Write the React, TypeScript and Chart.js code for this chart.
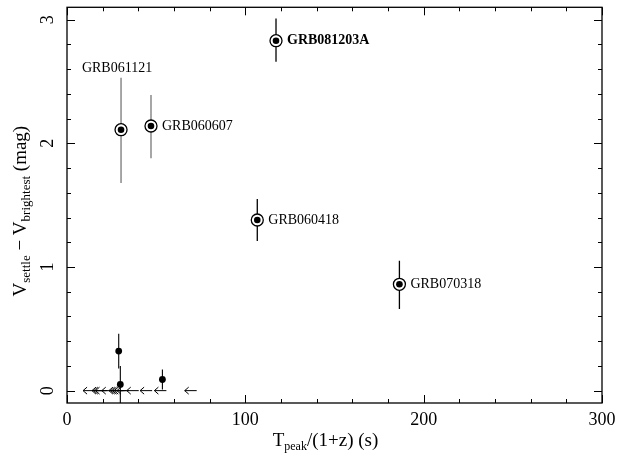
import React, { useEffect, useRef } from 'react';
import { Chart, registerables } from 'chart.js';

Chart.register(...registerables);

// Ringed GRBs with names
const grbNames = ['GRB081203A', 'GRB061121', 'GRB060607', 'GRB060418', 'GRB070318'];
const grbT = [117.2, 30.3, 47.1, 106.7, 186.4];
const grbDV = [2.83, 2.11, 2.14, 1.38, 0.86];
const grbLow = [2.66, 1.68, 1.88, 1.21, 0.66];
const grbHigh = [3.01, 2.53, 2.39, 1.55, 1.05];
const grbLabelSide = ['right', 'above', 'right', 'right', 'right'];
const grbBarGrey = [false, true, true, false, false];

// Other detected points
const otherT = [29.0, 29.9, 53.5];
const otherDV = [0.32, 0.05, 0.09];
const otherLow = [0.18, -0.15, 0.01];
const otherHigh = [0.46, 0.2, 0.17];

// Upper limits on T_peak (left arrows) at zero rise
const limitT = [9, 14, 15, 16, 19.5, 23.5, 24.5, 25.5, 26.5, 28, 33.5, 41, 49, 66];
const limitDV = [0, 0, 0, 0, 0, 0, 0, 0, 0, 0, 0, 0, 0, 0];

// Axis ticks
const xMajorTicks = [0, 100, 200, 300];
const xMinorTicks = [20, 40, 60, 80, 120, 140, 160, 180, 220, 240, 260, 280];
const yMajorTicks = [0, 1, 2, 3];
const yMinorTicks = [0.2, 0.4, 0.6, 0.8, 1.2, 1.4, 1.6, 1.8, 2.2, 2.4, 2.6, 2.8];

const SERIF = '"Liberation Serif", "DejaVu Serif", serif';

type Part = { t: string; sub?: boolean };

function richWidth(ctx: CanvasRenderingContext2D, parts: Part[], size: number, subSize: number) {
  let w = 0;
  for (const p of parts) {
    ctx.font = `${p.sub ? subSize : size}px ${SERIF}`;
    w += ctx.measureText(p.t).width;
  }
  return w;
}

function drawRich(ctx: CanvasRenderingContext2D, parts: Part[], cx: number, baseY: number, size: number, subSize: number, subDrop: number) {
  const w = richWidth(ctx, parts, size, subSize);
  let x = cx - w / 2;
  ctx.textAlign = 'left';
  ctx.textBaseline = 'alphabetic';
  for (const p of parts) {
    ctx.font = `${p.sub ? subSize : size}px ${SERIF}`;
    ctx.fillText(p.t, x, baseY + (p.sub ? subDrop : 0));
    x += ctx.measureText(p.t).width;
  }
}

const decorPlugin = {
  id: 'decor',
  beforeDatasetsDraw(chart: any) {
    const { ctx, chartArea: ca } = chart;
    const x = chart.scales.x;
    const y = chart.scales.y;
    ctx.save();
    ctx.beginPath();
    ctx.rect(ca.left, ca.top, ca.right - ca.left, ca.bottom - ca.top);
    ctx.clip();
    grbT.forEach((t, i) => {
      const px = x.getPixelForValue(t);
      ctx.strokeStyle = grbBarGrey[i] ? '#777777' : '#000000';
      ctx.lineWidth = 1.3;
      ctx.beginPath();
      ctx.moveTo(px, y.getPixelForValue(grbLow[i]));
      ctx.lineTo(px, y.getPixelForValue(grbHigh[i]));
      ctx.stroke();
    });
    otherT.forEach((t, i) => {
      const px = x.getPixelForValue(t);
      ctx.strokeStyle = '#000000';
      ctx.lineWidth = 1.1;
      ctx.beginPath();
      ctx.moveTo(px, y.getPixelForValue(otherLow[i]));
      ctx.lineTo(px, y.getPixelForValue(otherHigh[i]));
      ctx.stroke();
    });
    ctx.strokeStyle = '#000000';
    ctx.lineWidth = 1;
    limitT.forEach((t, i) => {
      const px = x.getPixelForValue(t);
      const py = y.getPixelForValue(limitDV[i]);
      ctx.beginPath();
      ctx.moveTo(px, py);
      ctx.lineTo(px + 12, py);
      ctx.moveTo(px + 4, py - 3.5);
      ctx.lineTo(px, py);
      ctx.lineTo(px + 4, py + 3.5);
      ctx.stroke();
    });
    ctx.restore();
  },
  afterDraw(chart: any) {
    const { ctx, chartArea: ca } = chart;
    const x = chart.scales.x;
    const y = chart.scales.y;
    ctx.save();
    ctx.fillStyle = '#000000';
    ctx.strokeStyle = '#000000';
    ctx.lineWidth = 1.3;
    ctx.strokeRect(ca.left, ca.top, ca.right - ca.left, ca.bottom - ca.top);
    ctx.lineWidth = 1;
    ctx.beginPath();
    const xt = (v: number, len: number) => {
      const px = Math.round(x.getPixelForValue(v)) + 0.5;
      ctx.moveTo(px, ca.bottom);
      ctx.lineTo(px, ca.bottom - len);
      ctx.moveTo(px, ca.top);
      ctx.lineTo(px, ca.top + len);
    };
    const yt = (v: number, len: number) => {
      const py = Math.round(y.getPixelForValue(v)) + 0.5;
      ctx.moveTo(ca.left, py);
      ctx.lineTo(ca.left + len, py);
      ctx.moveTo(ca.right, py);
      ctx.lineTo(ca.right - len, py);
    };
    xMajorTicks.forEach((v) => xt(v, 8));
    xMinorTicks.forEach((v) => xt(v, 4));
    yMajorTicks.forEach((v) => yt(v, 8));
    yMinorTicks.forEach((v) => yt(v, 4));
    ctx.stroke();

    ctx.font = `18px ${SERIF}`;
    ctx.textAlign = 'center';
    ctx.textBaseline = 'middle';
    xMajorTicks.forEach((v) => {
      ctx.fillText(String(v), x.getPixelForValue(v), ca.bottom + 17);
    });
    yMajorTicks.forEach((v) => {
      ctx.save();
      ctx.translate(ca.left - 19, y.getPixelForValue(v));
      ctx.rotate(-Math.PI / 2);
      ctx.fillText(String(v), 0, 0);
      ctx.restore();
    });

    drawRich(ctx, [{ t: 'T' }, { t: 'peak', sub: true }, { t: '/(1+z) (s)' }], (ca.left + ca.right) / 2 - 9, ca.bottom + 43, 19, 12, 4);
    ctx.save();
    ctx.translate(26, (ca.top + ca.bottom) / 2 + 6);
    ctx.rotate(-Math.PI / 2);
    drawRich(ctx, [{ t: 'V' }, { t: 'settle', sub: true }, { t: ' \u2212 V' }, { t: 'brightest', sub: true }, { t: ' (mag)' }], 0, 0, 19, 13, 4);
    ctx.restore();

    grbNames.forEach((name, i) => {
      const px = x.getPixelForValue(grbT[i]);
      const py = y.getPixelForValue(grbDV[i]);
      ctx.font = `${i === 0 ? 'bold ' : ''}14px ${SERIF}`;
      ctx.textBaseline = 'middle';
      if (grbLabelSide[i] === 'above') {
        ctx.textAlign = 'center';
        ctx.fillText(name, px - 4, y.getPixelForValue(grbHigh[i]) - 9);
      } else {
        ctx.textAlign = 'left';
        ctx.fillText(name, px + 11, py);
      }
    });
    ctx.restore();
  },
};

export default function App() {
  const canvasRef = useRef<HTMLCanvasElement | null>(null);

  useEffect(() => {
    const canvas = canvasRef.current;
    if (!canvas) return;
    const chart = new Chart(canvas, {
      type: 'scatter',
      data: {
        datasets: [
          {
            label: 'dots',
            order: 0,
            data: grbT.map((t, i) => ({ x: t, y: grbDV[i] })),
            pointRadius: 3.3,
            pointBorderWidth: 0,
            pointBackgroundColor: '#000000',
            pointHoverRadius: 3.3,
          },
          {
            label: 'others',
            order: 0,
            data: otherT.map((t, i) => ({ x: t, y: otherDV[i] })),
            pointRadius: 3.4,
            pointBorderWidth: 0,
            pointBackgroundColor: '#000000',
            pointHoverRadius: 3.4,
          },
          {
            label: 'rings',
            order: 1,
            data: grbT.map((t, i) => ({ x: t, y: grbDV[i] })),
            pointRadius: 6,
            pointBorderWidth: 1.3,
            pointBorderColor: '#000000',
            pointBackgroundColor: '#ffffff',
            pointHoverRadius: 6,
          },
        ],
      },
      options: {
        responsive: false,
        animation: false,
        events: [],
        layout: { padding: { left: 67, right: 15, top: 5, bottom: 53 } },
        plugins: { legend: { display: false }, tooltip: { enabled: false }, title: { display: false } },
        scales: {
          x: { type: 'linear', min: 0, max: 300, display: false },
          y: { type: 'linear', min: -0.1, max: 3.1, display: false },
        },
      },
      plugins: [decorPlugin],
    });
    return () => chart.destroy();
  }, []);

  return (
    <div style={{ position: 'absolute', left: 0, top: 0, width: 617, height: 456, background: '#ffffff' }}>
      <canvas ref={canvasRef} width={617} height={456} />
    </div>
  );
}
